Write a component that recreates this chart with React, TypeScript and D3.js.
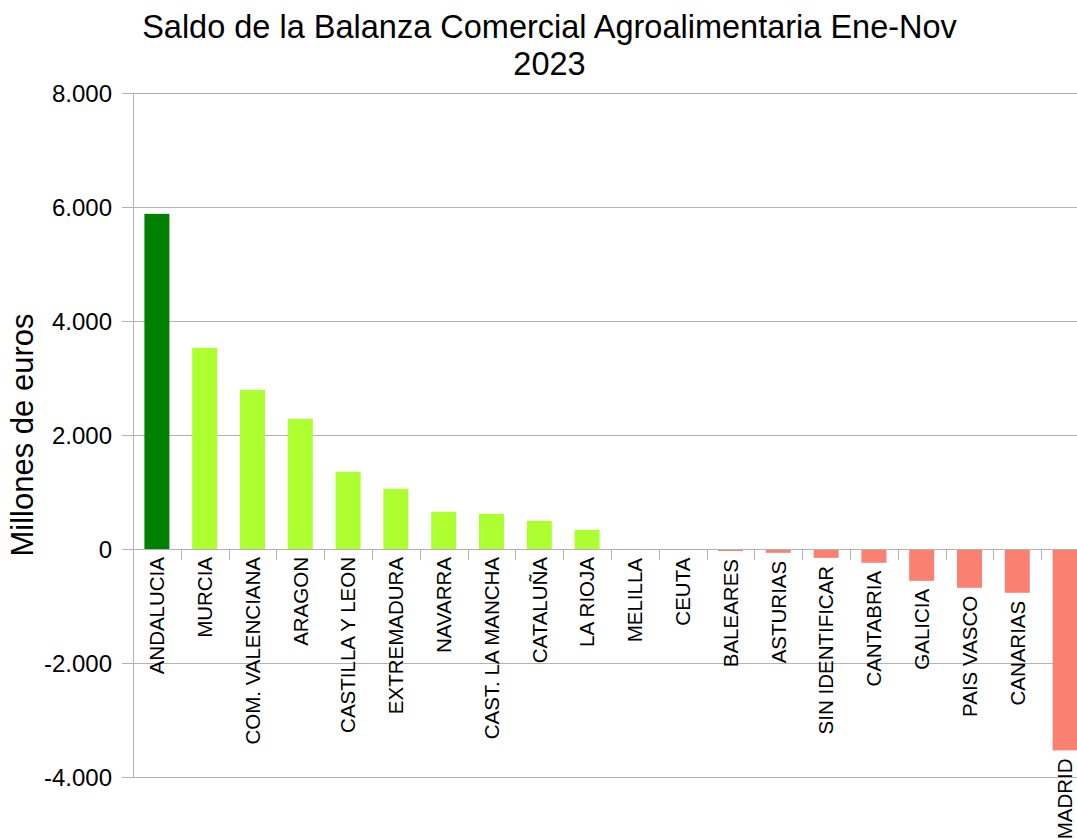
import React from "react";
import * as d3 from "d3";

const categories = [
  "ANDALUCIA", "MURCIA", "COM. VALENCIANA", "ARAGON", "CASTILLA Y LEON",
  "EXTREMADURA", "NAVARRA", "CAST. LA MANCHA", "CATALUÑA", "LA RIOJA",
  "MELILLA", "CEUTA", "BALEARES", "ASTURIAS", "SIN IDENTIFICAR",
  "CANTABRIA", "GALICIA", "PAIS VASCO", "CANARIAS", "MADRID",
];
const values = [
  5880, 3528, 2792, 2283, 1354,
  1056, 652, 617, 494, 336,
  -18, -12, -35, -67, -155,
  -242, -558, -680, -768, -3533,
];
const yTicks = [-4000, -2000, 0, 2000, 4000, 6000, 8000];
const yTickLabels = ["-4.000", "-2.000", "0", "2.000", "4.000", "6.000", "8.000"];
const titleLines = ["Saldo de la Balanza Comercial Agroalimentaria Ene-Nov", "2023"];
const yAxisTitle = "Millones de euros";

const W = 1077;
const H = 839;
const left = 133;
const step = 47.8;
const right = left + step * categories.length;
const top = 93;
const bottom = 777;
const FONT = "'Liberation Sans', Arial, sans-serif";
const GRID = "#b3b3b3";

export default function App() {
  const x = d3.scaleBand<string>().domain(categories).range([left, right]).paddingInner(0.477).paddingOuter(0.2385);
  const y = d3.scaleLinear().domain([-4000, 8000]).range([bottom, top]);
  const color = (v: number, i: number) => (i === 0 ? "#008000" : v >= 0 ? "#adff2f" : "#fa8072");
  const y0 = y(0);

  return (
    <svg width={W} height={H} style={{ position: "absolute", left: 0, top: 0, background: "#fff" }}>
      <rect x={0} y={0} width={W} height={H} fill="#fff" />
      {yTicks.map((t) => (
        <line key={"g" + t} x1={left - 11} x2={W} y1={Math.round(y(t)) + 0.5} y2={Math.round(y(t)) + 0.5} stroke={GRID} strokeWidth={1} />
      ))}
      {values.map((v, i) => {
        const yy = Math.min(y(v), y0);
        const hh = Math.abs(y(v) - y0);
        return <rect key={"b" + i} x={x(categories[i])!} y={yy} width={x.bandwidth()} height={hh} fill={color(v, i)} />;
      })}
      <line x1={left} x2={W} y1={Math.round(y0) + 0.5} y2={Math.round(y0) + 0.5} stroke={GRID} strokeWidth={1} />
      {d3.range(categories.length + 1).map((k) => {
        const xx = Math.round(left + k * step) + 0.5;
        return <line key={"t" + k} x1={xx} x2={xx} y1={y0} y2={y0 + 11} stroke={GRID} strokeWidth={1} />;
      })}
      <line x1={left + 0.5} x2={left + 0.5} y1={top} y2={bottom} stroke={GRID} strokeWidth={1} />
      {yTicks.map((t, i) => (
        <text key={"yl" + t} x={112} y={y(t)} dy="0.36em" textAnchor="end" fontFamily={FONT} fontSize={24} fill="#000">
          {yTickLabels[i]}
        </text>
      ))}
      {categories.map((c, i) => {
        const cx = x(c)! + x.bandwidth() / 2;
        const startY = Math.max(y0, y(values[i])) + 8;
        return (
          <text key={"xl" + c} transform={`translate(${cx},${startY}) rotate(-90)`} dy="0.36em" textAnchor="end" fontFamily={FONT} fontSize={20.5} fill="#000">
            {c}
          </text>
        );
      })}
      <text transform={`translate(33,${(top + bottom) / 2}) rotate(-90)`} textAnchor="middle" fontFamily={FONT} fontSize={31} fill="#000">
        {yAxisTitle}
      </text>
      {titleLines.map((l, i) => (
        <text key={"ti" + i} x={549.5} y={37.5 + i * 37} textAnchor="middle" fontFamily={FONT} fontSize={32.5} fill="#000">
          {l}
        </text>
      ))}
    </svg>
  );
}
